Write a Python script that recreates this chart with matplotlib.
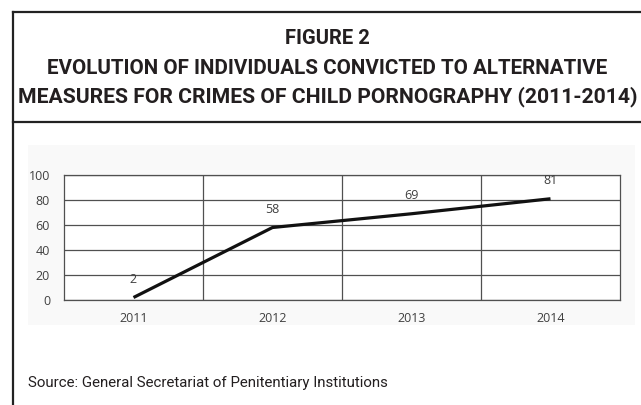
import matplotlib
matplotlib.use("Agg")
import matplotlib.pyplot as plt
from matplotlib.patches import Rectangle
from matplotlib.lines import Line2D

years = ["2011", "2012", "2013", "2014"]
values = [2, 58, 69, 81]
y_ticks = [0, 20, 40, 60, 80, 100]
title_lines = ["FIGURE 2",
               "EVOLUTION OF INDIVIDUALS CONVICTED TO ALTERNATIVE",
               "MEASURES FOR CRIMES OF CHILD PORNOGRAPHY (2011-2014)"]
source = "Source: General Secretariat of Penitentiary Institutions"

W, H = 641, 405
fig = plt.figure(figsize=(W / 100, H / 100), dpi=100)
fig.patch.set_facecolor("white")

def fx(px):
    return px / W

def fy(py):
    return 1 - py / H

# light chart panel
fig.patches.append(Rectangle((fx(28), fy(325)), fx(635) - fx(28), fy(145) - fy(325),
                             transform=fig.transFigure, facecolor="#f9f9f9",
                             edgecolor="none", zorder=-5))

# frame lines
frame_col = "#222222"
fig.add_artist(Line2D([fx(13), fx(13)], [fy(12), 0], transform=fig.transFigure,
                      color=frame_col, lw=1.6))
fig.add_artist(Line2D([fx(13), 1], [fy(12), fy(12)], transform=fig.transFigure,
                      color=frame_col, lw=1.6))
fig.add_artist(Line2D([fx(13), 1], [fy(122), fy(122)], transform=fig.transFigure,
                      color=frame_col, lw=1.6))

# titles
narrow = ["Roboto", "DejaVu Sans"]
title_y = [38, 68, 97]
title_w = [85, 566, 620]
renderer = fig.canvas.get_renderer()
for line, ty, tw in zip(title_lines, title_y, title_w):
    t = fig.text(0.5 + fx(7), fy(ty), line, ha="center", va="center", fontsize=14,
                 family=narrow, fontweight="bold", color="#231f20")
    bb = t.get_window_extent(renderer)
    t.set_fontsize(14 * tw / bb.width)

# axes
ax = fig.add_axes([fx(64), fy(300), fx(620) - fx(64), fy(175) - fy(300)], zorder=2)
ax.set_facecolor("white")
x = list(range(len(years)))
ax.plot(x, values, color="#111111", lw=2.3, solid_capstyle="butt", zorder=3)
ax.set_xlim(-0.5, len(years) - 0.5)
ax.set_ylim(0, 100)
ax.set_yticks(y_ticks)
ax.set_xticks(x)
ax.set_xticklabels(years)
grid_col = "#505050"
for yv in y_ticks:
    ax.axhline(yv, color=grid_col, lw=0.9, zorder=1)
for b in [i + 0.5 for i in x[:-1]]:
    ax.axvline(b, color=grid_col, lw=0.9, zorder=1)
for s in ax.spines.values():
    s.set_color(grid_col)
    s.set_linewidth(0.9)
ax.tick_params(length=0, labelsize=9, labelcolor="#404040")
ax.tick_params(axis="x", pad=9)
ax.tick_params(axis="y", pad=10)
for lab in ax.get_xticklabels() + ax.get_yticklabels():
    lab.set_family("Open Sans")
for xi, v in zip(x, values):
    ax.annotate(str(v), (xi, v), xytext=(0, 13), textcoords="offset points",
                ha="center", va="center", fontsize=9, color="#404040",
                family="Open Sans")

src = fig.text(fx(28), fy(383), source, ha="left", va="center", fontsize=10,
               family=narrow, color="#231f20")
bb = src.get_window_extent(renderer)
src.set_fontsize(10 * 362 / bb.width)

fig.savefig("out.png", dpi=100)
